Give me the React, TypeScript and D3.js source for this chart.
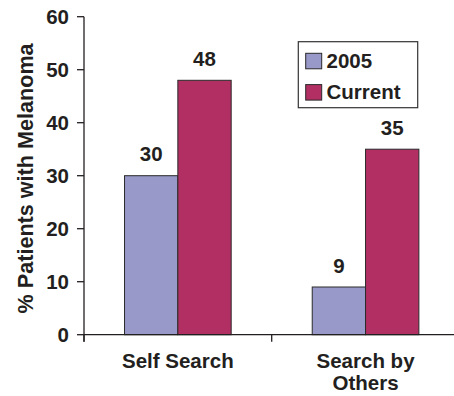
import React from "react";
import * as d3 from "d3";

const categories = ["Self Search", "Search by Others"];
const categoryLines = [["Self Search"], ["Search by", "Others"]];
const seriesNames = ["2005", "Current"];
const values2005 = [30, 9];
const valuesCurrent = [48, 35];
const yTicks = [0, 10, 20, 30, 40, 50, 60];
const yLabel = "% Patients with Melanoma";

const colors = ["#9898c9", "#b22f63"];
const ink = "#231f20";
const font = "'Liberation Sans', Arial, Helvetica, sans-serif";

export default function App() {
  const W = 454;
  const H = 396;
  const x0 = 84;
  const x1 = 459.4;
  const yBase = 334.7;
  const yTop = 16.7;

  const y = d3.scaleLinear().domain([0, 60]).range([yBase, yTop]);
  const xCat = d3.scaleBand<string>().domain(categories).range([x0, x1]).paddingInner(0).paddingOuter(0);
  const xSub = d3
    .scaleBand<string>()
    .domain(seriesNames)
    .range([0, xCat.bandwidth()])
    .paddingInner(0)
    .paddingOuter(0.76);

  const series = [values2005, valuesCurrent];

  return (
    <svg
      width={W}
      height={H}
      style={{ position: "absolute", left: 0, top: 0, background: "#fff" }}
      fontFamily={font}
      fontWeight="bold"
    >
      {categories.map((c, ci) =>
        seriesNames.map((s, si) => {
          const v = series[si][ci];
          const bx = (xCat(c) as number) + (xSub(s) as number);
          const bw = xSub.bandwidth();
          return (
            <g key={c + s}>
              <rect
                x={bx}
                y={y(v)}
                width={bw}
                height={yBase - y(v)}
                fill={colors[si]}
                stroke="#2a2a2a"
                strokeWidth={1}
              />
              <text
                x={bx + bw / 2}
                y={y(v) - 14.5}
                textAnchor="middle"
                fontSize={20.5}
                fill={ink}
              >
                {v}
              </text>
            </g>
          );
        })
      )}

      <line x1={x0} x2={x0} y1={yTop} y2={yBase + 7} stroke={ink} strokeWidth={1.3} />
      {yTicks.map((t) => (
        <g key={t}>
          <line x1={x0 - 7} x2={x0} y1={y(t)} y2={y(t)} stroke={ink} strokeWidth={1.3} />
          <text x={69} y={y(t)} dy="0.36em" textAnchor="end" fontSize={20.5} fill={ink}>
            {t}
          </text>
        </g>
      ))}

      <line x1={x0} x2={x1} y1={yBase} y2={yBase} stroke={ink} strokeWidth={1.3} />
      {categories.map((c) => (
        <line
          key={"t" + c}
          x1={xCat(c) as number}
          x2={xCat(c) as number}
          y1={yBase}
          y2={yBase + 7}
          stroke={ink}
          strokeWidth={1.3}
        />
      ))}
      {categories.map((c, ci) => (
        <text
          key={"l" + c}
          x={(xCat(c) as number) + xCat.bandwidth() / 2}
          y={367.5}
          textAnchor="middle"
          fontSize={20.5}
          fill={ink}
        >
          {categoryLines[ci].map((ln, li) => (
            <tspan key={li} x={(xCat(c) as number) + xCat.bandwidth() / 2} dy={li === 0 ? 0 : 22}>
              {ln}
            </tspan>
          ))}
        </text>
      ))}

      <text
        transform={`translate(33,178.4) rotate(-90)`}
        textAnchor="middle"
        fontSize={21.6}
        fill={ink}
      >
        {yLabel}
      </text>

      <rect x={298.3} y={41.7} width={119.4} height={66} fill="#fff" stroke="#333" strokeWidth={1.2} />
      {seriesNames.map((s, si) => (
        <g key={"lg" + s}>
          <rect
            x={305.7}
            y={53.3 + si * 31.3}
            width={16}
            height={15.5}
            fill={colors[si]}
            stroke="#2a2a2a"
            strokeWidth={1}
          />
          <text x={326.5} y={67.5 + si * 31.8} fontSize={20.5} fill={ink}>
            {s}
          </text>
        </g>
      ))}
    </svg>
  );
}
